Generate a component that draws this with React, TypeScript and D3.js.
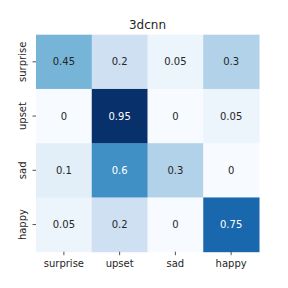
import * as d3 from 'd3';
import React, { useEffect, useRef } from 'react';

const title = '3dcnn';
const rowLabels = ['surprise', 'upset', 'sad', 'happy'];
const colLabels = ['surprise', 'upset', 'sad', 'happy'];
const surpriseRow = [0.45, 0.2, 0.05, 0.3];
const upsetRow = [0, 0.95, 0, 0.05];
const sadRow = [0.1, 0.6, 0.3, 0];
const happyRow = [0.05, 0.2, 0, 0.75];
const matrix = [surpriseRow, upsetRow, sadRow, happyRow];

// matplotlib "Blues" control colours
const blues = ['#f7fbff', '#deebf7', '#c6dbef', '#9ecae1', '#6baed6', '#4292c6', '#2171b5', '#08519c', '#08306b'];

const App = () => {
    const ref = useRef(null);
    const svgWidth = 288;
    const svgHeight = 288;
    const margin = { top: 34.7, right: 29, bottom: 36.3, left: 36 };
    const width = svgWidth - margin.left - margin.right;
    const height = svgHeight - margin.top - margin.bottom;

    useEffect(() => {
        d3.select(ref.current).selectAll('*').remove();
        const svg = d3.select(ref.current)
            .append('svg')
            .attr('width', svgWidth)
            .attr('height', svgHeight)
            .style('position', 'absolute')
            .style('left', 0)
            .style('top', 0)
            .style('font-family', 'DejaVu Sans')
            .style('background', 'white');

        const g = svg.append('g').attr('transform', `translate(${margin.left},${margin.top})`);

        const x = d3.scaleBand().domain(colLabels).range([0, width]);
        const y = d3.scaleBand().domain(rowLabels).range([0, height]);
        const vmax = d3.max(matrix.flat());
        const color = d3.scaleLinear()
            .domain(blues.map((_, i) => (i / (blues.length - 1)) * vmax))
            .range(blues)
            .interpolate(d3.interpolateRgb)
            .clamp(true);

        const lum = (c) => {
            const rgb = d3.rgb(c);
            const f = v => { v /= 255; return v <= 0.03928 ? v / 12.92 : Math.pow((v + 0.055) / 1.055, 2.4); };
            return 0.2126 * f(rgb.r) + 0.7152 * f(rgb.g) + 0.0722 * f(rgb.b);
        };

        const cells = [];
        matrix.forEach((row, i) => row.forEach((v, j) => cells.push({ r: rowLabels[i], c: colLabels[j], v })));

        g.selectAll('rect.cell').data(cells).enter().append('rect')
            .attr('x', d => x(d.c))
            .attr('y', d => y(d.r))
            .attr('width', x.bandwidth() + 0.5)
            .attr('height', y.bandwidth() + 0.5)
            .attr('fill', d => color(d.v));

        g.selectAll('text.ann').data(cells).enter().append('text')
            .attr('x', d => x(d.c) + x.bandwidth() / 2)
            .attr('y', d => y(d.r) + y.bandwidth() / 2)
            .attr('dy', '0.36em')
            .attr('text-anchor', 'middle')
            .style('font-size', '10px')
            .attr('fill', d => (lum(color(d.v)) > 0.408 ? '#262626' : '#ffffff'))
            .text(d => String(d.v));

        // x axis
        const xAxis = g.append('g').attr('transform', `translate(0,${height})`);
        colLabels.forEach(c => {
            const cx = x(c) + x.bandwidth() / 2;
            xAxis.append('line').attr('x1', cx).attr('x2', cx).attr('y1', 0).attr('y2', 3.5)
                .attr('stroke', '#262626').attr('stroke-width', 0.8);
            xAxis.append('text').attr('x', cx).attr('y', 15.5)
                .attr('text-anchor', 'middle').style('font-size', '10px').attr('fill', '#262626').text(c);
        });

        // y axis
        const yAxis = g.append('g');
        rowLabels.forEach(r => {
            const cy = y(r) + y.bandwidth() / 2;
            yAxis.append('line').attr('x1', 0).attr('x2', -3.5).attr('y1', cy).attr('y2', cy)
                .attr('stroke', '#262626').attr('stroke-width', 0.8);
            yAxis.append('text')
                .attr('transform', `translate(-10,${cy}) rotate(-90)`)
                .attr('text-anchor', 'middle').style('font-size', '10px').attr('fill', '#262626').text(r);
        });

        g.append('text')
            .attr('x', width / 2)
            .attr('y', -6)
            .attr('text-anchor', 'middle')
            .style('font-size', '12px')
            .attr('fill', '#262626')
            .text(title);
    }, []);

    return <div ref={ref}></div>;
};

export default App;
